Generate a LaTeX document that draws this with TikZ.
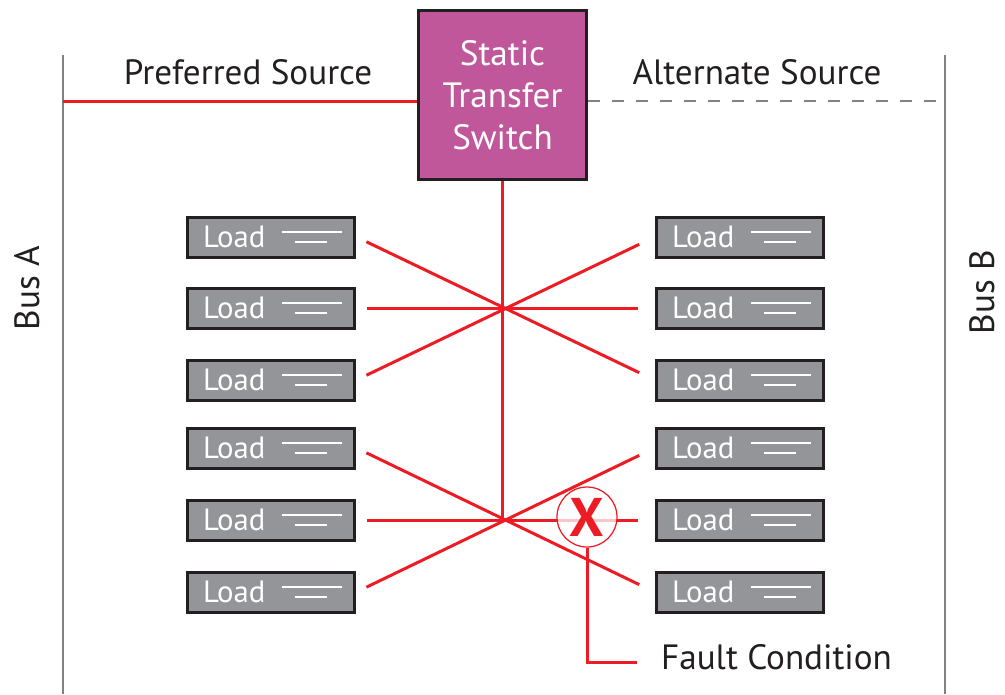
\documentclass[tikz,border=0pt]{standalone}
\usepackage{fontspec}
\setmainfont{PT Sans}
\usetikzlibrary{positioning}

\definecolor{feedred}{HTML}{ED1C24}
\definecolor{stsmagenta}{HTML}{C0579A}
\definecolor{loadgray}{HTML}{939598}
\definecolor{edgedark}{HTML}{231F20}
\definecolor{busgray}{HTML}{808285}

\begin{document}
\begin{tikzpicture}[
      x=0.02cm, y=-0.02cm,
      bus/.style={draw=busgray, line width=0.05cm},
      feed/.style={draw=feedred, line width=0.06cm},
      altfeed/.style={draw=busgray, line width=0.05cm, dash pattern=on 0.24cm off 0.24cm},
      lbl/.style={font=\fontsize{20}{24}\selectfont, text=edgedark},
      sts/.style={rectangle, draw=edgedark, line width=0.06cm, fill=stsmagenta,
                  minimum width=3.38cm, minimum height=3.4cm, align=center,
                  text=white, font=\fontsize{20}{24}\selectfont},
      load/.style={rectangle, draw=edgedark, line width=0.06cm, fill=loadgray,
                   minimum width=3.36cm, minimum height=0.8cm, inner xsep=0.32cm,
                   text width=2.72cm, align=left, text=white,
                   font=\fontsize{17.5}{20}\selectfont,
                   path picture={
                     \draw[white, line width=0.05cm]
                       ([shift={(11,-5)}]path picture bounding box.center) --
                       ([shift={(71,-5)}]path picture bounding box.center);
                     \draw[white, line width=0.05cm]
                       ([shift={(24,5)}]path picture bounding box.center) --
                       ([shift={(56,5)}]path picture bounding box.center);
                   }},
      tie/.style={feed, shorten <=0.22cm, shorten >=0.34cm},
      faultmark/.style={circle, draw=feedred, line width=0.025cm, fill=white,
                        fill opacity=0.75, text opacity=1, minimum size=1.2cm,
                        inner sep=0pt, text=feedred,
                        font=\bfseries\fontsize{31}{31}\selectfont}
    ]
    \useasboundingbox (0,0) rectangle (1005,694);

    % buses
    \coordinate (busAtop) at (63,55);
    \coordinate (busAbot) at (63,694);
    \coordinate (busBtop) at (945,55);
    \coordinate (busBbot) at (945,694);
    \draw[bus] (busAtop) -- (busAbot);
    \draw[bus] (busBtop) -- (busBbot);
    \node[lbl, rotate=90, inner sep=0pt] (busAlbl) at (27,288) {Bus A};
    \node[lbl, rotate=90, inner sep=0pt] (busBlbl) at (982,292) {Bus B};

    % sources
    \node[sts] (switch) at (502.5,95) {Static\\Transfer\\Switch};
    \coordinate (prefA) at (63,101);
    \coordinate (altB) at (945,101);
    \draw[feed] (prefA) -- (prefA -| switch.west);
    \draw[altfeed] (switch.east |- altB) -- (altB);
    \node[lbl] (preflbl) at (248,72) {Preferred Source};
    \node[lbl] (altlbl) at (757,72) {Alternate Source};

    % loads
    \foreach \i/\y in {1/237, 2/308, 3/380, 4/448, 5/520, 6/592} {
      \node[load] (loadL\i) at (271,\y) {Load};
      \node[load] (loadR\i) at (740,\y) {Load};
    }

    % feeders
    \coordinate (hubTop) at (switch.south |- loadL2);
    \coordinate (hubBot) at (switch.south |- loadL5);
    \draw[feed] (switch.south) -- (hubBot);
    \draw[tie] (loadL1.east) -- (loadR3.west);
    \draw[tie] (loadL3.east) -- (loadR1.west);
    \draw[tie] (loadL2.east) -- (loadR2.west);
    \draw[tie] (loadL4.east) -- (loadR6.west);
    \draw[tie] (loadL6.east) -- (loadR4.west);
    \draw[tie] (loadL5.east) -- (loadR5.west);

    % fault
    \node[faultmark] (fault) at (587,517) {X};
    \coordinate (faultend) at (637,662);
    \draw[feed] (fault.south) |- (faultend);
    \node[lbl, anchor=west] (faultlbl) at (655,657) {Fault Condition};
  \end{tikzpicture}
\end{document}
